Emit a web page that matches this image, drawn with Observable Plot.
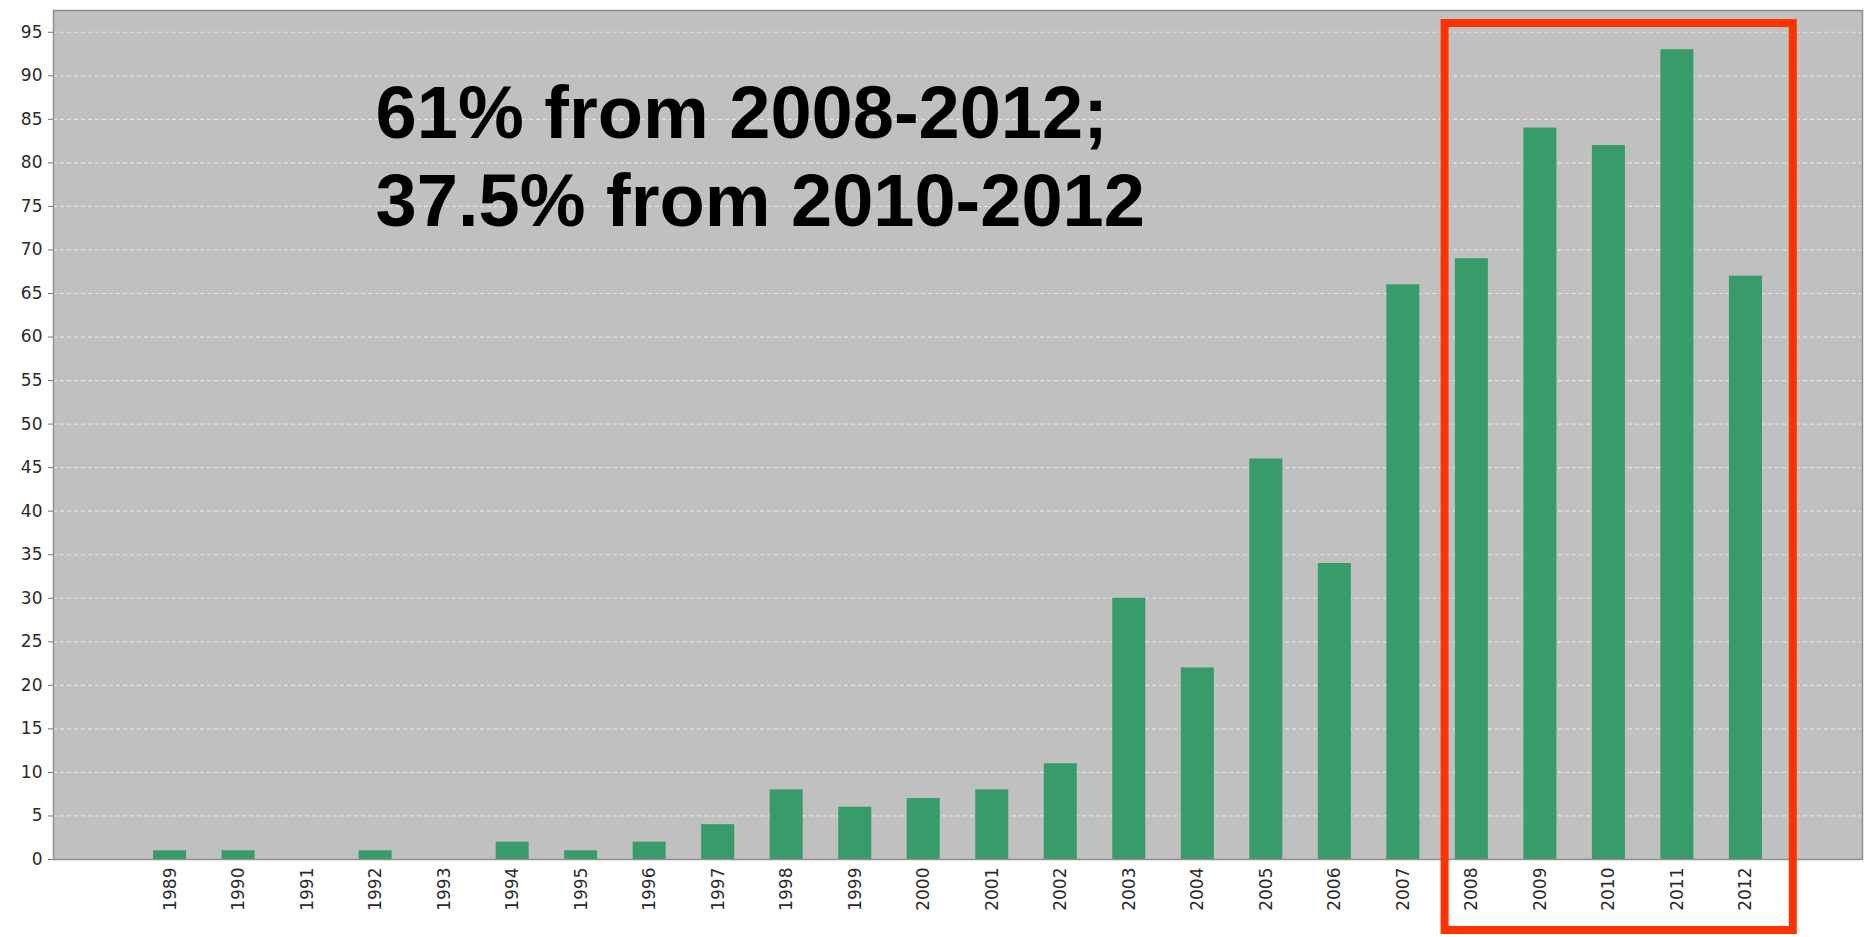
<!DOCTYPE html>
<html>
<head>
<meta charset="utf-8">
<script src="https://cdn.jsdelivr.net/npm/d3@7"></script>
<script src="https://cdn.jsdelivr.net/npm/@observablehq/plot@0.6"></script>
<style>
  html, body { margin: 0; padding: 0; background: #ffffff; }
  #chart { width: 1872px; height: 937px; overflow: hidden; }
</style>
</head>
<body>
<div id="chart"></div>
<script>
const years = ["1989","1990","1991","1992","1993","1994","1995","1996","1997","1998","1999","2000","2001","2002","2003","2004","2005","2006","2007","2008","2009","2010","2011","2012"];
const counts = [1,1,0,1,0,2,1,2,4,8,6,7,8,11,30,22,46,34,66,69,84,82,93,67];
const yTicks = [0,5,10,15,20,25,30,35,40,45,50,55,60,65,70,75,80,85,90,95];
const annotationLines = ["61% from 2008-2012;", "37.5% from 2010-2012"];
const annotationYear = "1992";
const annotationY = [85.6, 75.45];
const highlightStart = "2008";
const highlightEnd = "2012";
const highlightTop = 96;

const data = years.map((y, i) => ({year: y, count: counts[i]}));
const notes = annotationLines.map((t, i) => ({text: t, x: annotationYear, y: annotationY[i]}));

function highlightMark(index, scales, values, dimensions) {
  const x = scales.x, y = scales.y;
  const bw = typeof x.bandwidth === "function" ? x.bandwidth() : x.bandwidth;
  const step = typeof x.step === "function" ? x.step() : x.step;
  const x0 = x(highlightStart) - 0.15 * step;
  const x1 = x(highlightEnd) + bw + 0.45 * step;
  const y0 = y(highlightTop);
  const y1 = dimensions.height - 7;
  const r = document.createElementNS("http://www.w3.org/2000/svg", "rect");
  r.setAttribute("x", x0);
  r.setAttribute("y", y0);
  r.setAttribute("width", x1 - x0);
  r.setAttribute("height", y1 - y0);
  r.setAttribute("fill", "none");
  r.setAttribute("stroke", "#ff3300");
  r.setAttribute("stroke-width", 8);
  return r;
}

const plot = Plot.plot({
  width: 1872,
  height: 937,
  marginLeft: 53,
  marginRight: 10,
  marginTop: 10,
  marginBottom: 78,
  style: {background: "#ffffff", fontFamily: "DejaVu Sans", overflow: "visible"},
  x: {domain: years, paddingInner: 0.518, paddingOuter: 1.46, round: false, label: null},
  y: {domain: [0, 97.5], label: null},
  marks: [
    Plot.frame({fill: "#c0c0c0", stroke: "none"}),
    Plot.gridY(yTicks.filter(d => d > 0), {stroke: "#e4e4e4", strokeOpacity: 1, strokeDasharray: "4,3", strokeWidth: 1.2}),
    Plot.barY(data, {x: "year", y: "count", fill: "#389c6a"}),
    Plot.frame({stroke: "#8f8f8f", strokeWidth: 1.5}),
    Plot.axisY({ticks: yTicks, tickSize: 5, tickPadding: 6, fontSize: 17, fill: "#2a2a2a", stroke: "#777", label: null}),
    Plot.axisX({tickSize: 0, tickPadding: 8, tickRotate: -90, fontSize: 17, fill: "#2a2a2a", label: null}),
    Plot.text(notes, {x: "x", y: "y", text: "text", textAnchor: "start", lineAnchor: "middle", fontSize: 74, fontWeight: "bold", fontFamily: "Liberation Sans, Arial, sans-serif", fill: "#000"}),
    highlightMark
  ]
});
document.getElementById("chart").appendChild(plot);
</script>
</body>
</html>
